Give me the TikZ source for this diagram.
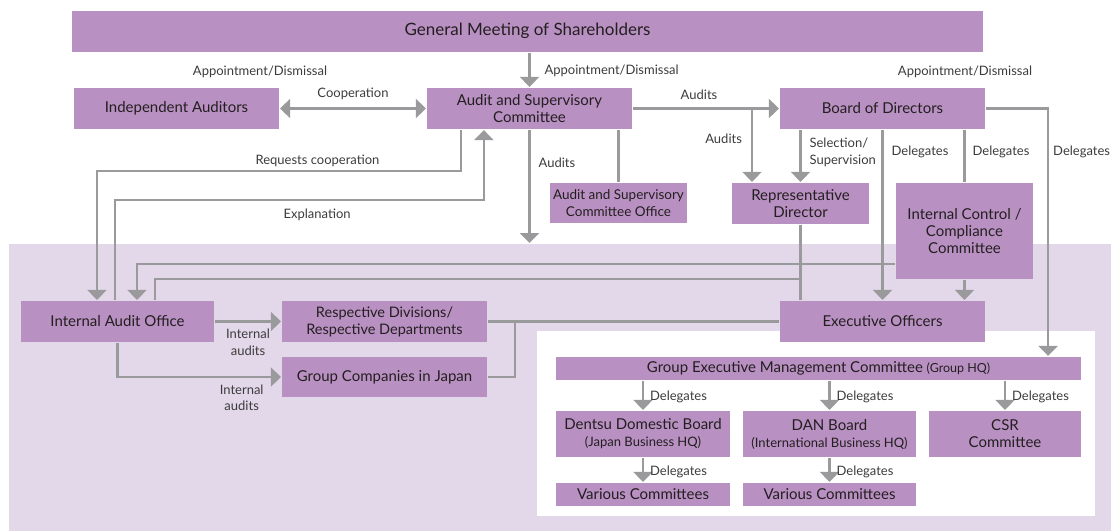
\documentclass[tikz,border=0pt]{standalone}
\usepackage{fontspec}
\setmainfont{Lato}
\usepackage{tikz}
\usetikzlibrary{arrows.meta,positioning}
\definecolor{boxfill}{HTML}{B990C2}
\definecolor{lavbg}{HTML}{E3D7EA}
\definecolor{linegray}{HTML}{9A9A9C}
\definecolor{boxtext}{HTML}{231F20}
\definecolor{lbltext}{HTML}{3C3C3C}

\begin{document}
\begin{tikzpicture}[x=1pt, y=-1pt, >={Triangle[width=19pt,length=10pt]}, line width=2.2pt,
  box/.style={rectangle, fill=boxfill, text=boxtext, inner sep=0pt, align=center, font=\fontsize{15}{17}\selectfont},
  lbl/.style={text=lbltext, inner sep=0pt, align=left, yshift=-1.5pt, font=\fontsize{13}{16.5}\selectfont},
  conn/.style={linegray}]

\useasboundingbox (0,0) rectangle (1111,531);
\fill[lavbg] (8.6,244) rectangle (1111,531);
\fill[white] (537,331) rectangle (1095,516);

\node[box, minimum width=911pt, minimum height=41pt, font=\fontsize{17}{20}\selectfont] (gms) at (527.5,31) {General Meeting of Shareholders};
\node[box, minimum width=205pt, minimum height=41pt] (ia) at (176.5,108.5) {Independent Auditors};
\node[box, minimum width=205pt, minimum height=41pt] (asc) at (529.5,108.5) {Audit and Supervisory\\Committee};
\node[box, minimum width=205pt, minimum height=41pt] (bod) at (882.5,108.5) {Board of Directors};
\node[box, minimum width=137pt, minimum height=40pt, font=\fontsize{13.5}{16.5}\selectfont] (asco) at (618.5,203) {Audit and Supervisory\\Committee Office};
\node[box, minimum width=137pt, minimum height=41pt] (rd) at (800.5,203.5) {Representative\\Director};
\node[box, minimum width=137pt, minimum height=96pt] (icc) at (964.5,231) {Internal Control /\\Compliance\\Committee};
\node[box, minimum width=193pt, minimum height=41pt] (iao) at (117.5,321.5) {Internal Audit Office};
\node[box, minimum width=205pt, minimum height=41pt, font=\fontsize{14.5}{17}\selectfont] (rdiv) at (384.5,321.5) {Respective Divisions/\\Respective Departments};
\node[box, minimum width=205pt, minimum height=40pt] (gc) at (384.5,377) {Group Companies in Japan};
\node[box, minimum width=205pt, minimum height=41pt] (eo) at (882.5,321.5) {Executive Officers};
\node[box, minimum width=525pt, minimum height=23pt] (gemc) at (818.5,368.5) {Group Executive Management Committee {\fontsize{12.5}{14}\selectfont(Group HQ)}};
\node[box, minimum width=174pt, minimum height=46pt] (ddb) at (643,434) {Dentsu Domestic Board\\{\fontsize{13}{15}\selectfont(Japan Business HQ)}};
\node[box, minimum width=173pt, minimum height=46pt] (dan) at (829.5,434) {DAN Board\\{\fontsize{13}{15}\selectfont(International Business HQ)}};
\node[box, minimum width=152pt, minimum height=46pt] (csr) at (1005,434) {CSR\\Committee};
\node[box, minimum width=174pt, minimum height=23pt] (vc1) at (643,494.5) {Various Committees};
\node[box, minimum width=173pt, minimum height=23pt] (vc2) at (829.5,494.5) {Various Committees};

\coordinate (aud) at (752,108);
\coordinate (rq) at (97,171);
\coordinate (ex) at (115,200);
\coordinate (audin) at (530,243);
\coordinate (j1) at (801,279);

\node[lbl] at (260,70) {Appointment/Dismissal};
\node[lbl] at (965,70) {Appointment/Dismissal};

\draw[conn, ->] (asc.north |- gms.south) -- node[lbl, right=14pt] {Appointment/Dismissal} (asc.north);
\draw[conn, <->] (ia) -- node[lbl, above=9pt] {Cooperation} (asc);
\draw[conn, ->] (asc) -- node[lbl, above=9pt, xshift=-7pt] {Audits} (bod);
\draw[conn, ->] (aud) -- node[lbl, pos=0.4, left=9pt] {Audits} (aud |- rd.north);
\draw[conn, ->] (rd.north |- bod.south) -- node[lbl, pos=0.4, right=8pt] {Selection/\\Supervision} (rd.north);
\draw[conn, ->] (bod) -- node[lbl, pos=0.12, right=8pt] {Delegates} (eo);
\draw[conn] (icc.north |- bod.south) -- node[lbl, pos=0.39, right=7pt] {Delegates} (icc.north);
\draw[conn, ->] (icc.south) -- (icc.south |- eo.north);
\draw[conn, ->] (bod.east) -| node[lbl, pos=0.584, right=4pt] {Delegates} ([xshift=-34pt]gemc.north east);
\draw[conn, ->] (asc.south) -- node[lbl, pos=0.28, right=8pt] {Audits} (asc.south |- audin);
\draw[conn] (asco.north |- asc.south) -- (asco.north);
\draw[conn, ->] ([xshift=35pt]asc.south west) |- node[lbl, pos=0.697, above=5pt] {Requests cooperation} (rq) -- (rq |- iao.north);
\draw[conn, ->] (iao.north -| ex) -- (ex) -| node[lbl, pos=0.274, below=6pt] {Explanation} ([xshift=58pt]asc.south west);
\draw[conn, ->] ([yshift=-33pt]icc.west) -| ([xshift=19.5pt]iao.north);
\draw[conn] (rd.south) -- (rd.south |- eo.north);
\draw[conn] (j1) -| ([xshift=37.5pt]iao.north);
\draw[conn, ->] (iao) -- node[lbl, below=5pt, align=center] {Internal\\audits} (rdiv);
\draw[conn, ->] (iao.south) |- node[lbl, pos=0.88, below=5pt, align=center] {Internal\\audits} (gc.west);
\draw[conn] (rdiv.east) -- (eo.west);
\draw[conn] (gc.east) -| ([xshift=27pt]rdiv.east);
\draw[conn, ->] (ddb.north |- gemc.south) -- node[lbl, right=6pt] {Delegates} (ddb.north);
\draw[conn, ->] (dan.north |- gemc.south) -- node[lbl, right=6pt] {Delegates} (dan.north);
\draw[conn, ->] (csr.north |- gemc.south) -- node[lbl, right=6pt] {Delegates} (csr.north);
\draw[conn, ->] (ddb) -- node[lbl, right=6pt] {Delegates} (vc1);
\draw[conn, ->] (dan) -- node[lbl, right=6pt] {Delegates} (vc2);
\end{tikzpicture}
\end{document}
